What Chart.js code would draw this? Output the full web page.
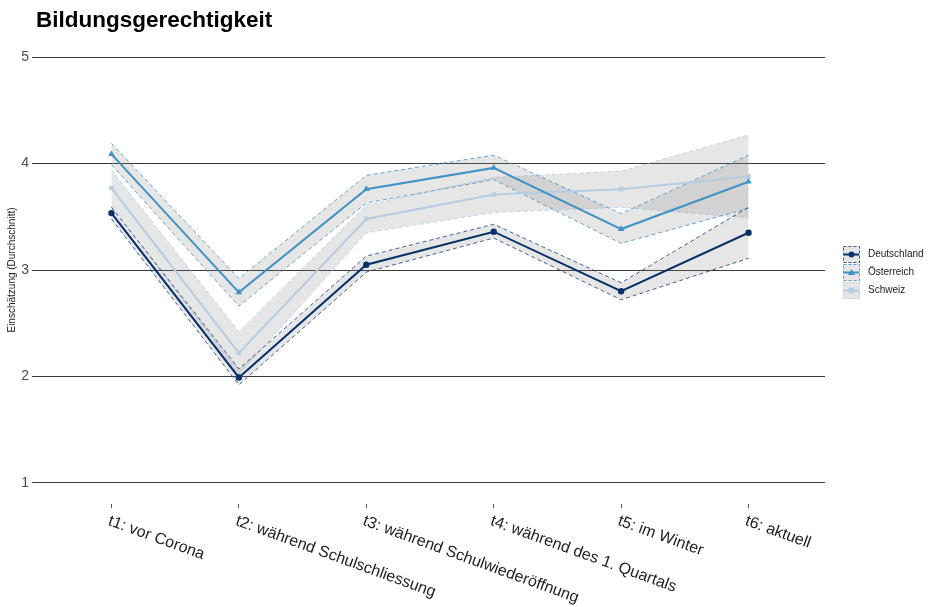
<!DOCTYPE html>
<html>
<head>
<meta charset="utf-8">
<script src="https://cdn.jsdelivr.net/npm/chart.js@4/dist/chart.umd.min.js"></script>
<style>
  html, body { margin: 0; padding: 0; background: #ffffff; }
  #wrap { width: 931px; height: 607px; }
</style>
</head>
<body>
<div id="wrap"><canvas id="c" width="931" height="607"></canvas></div>
<script>
// Zeitpunkte der Befragung
const categories = [
  't1: vor Corona',
  't2: während Schulschliessung',
  't3: während Schulwiederöffnung',
  't4: während des 1. Quartals',
  't5: im Winter',
  't6: aktuell'
];
const yTicks = [1, 2, 3, 4, 5];

// Mittelwerte und Konfidenzbänder je Land
const deutschland      = [3.535, 1.99, 3.05, 3.36, 2.80, 3.35];
const deutschlandLower = [3.48, 1.92, 2.98, 3.30, 2.72, 3.11];
const deutschlandUpper = [3.59, 2.07, 3.13, 3.43, 2.88, 3.59];

const oesterreich      = [4.09, 2.79, 3.76, 3.96, 3.385, 3.83];
const oesterreichLower = [3.99, 2.66, 3.63, 3.85, 3.25, 3.58];
const oesterreichUpper = [4.19, 2.92, 3.89, 4.08, 3.53, 4.08];

const schweiz      = [3.77, 2.22, 3.48, 3.71, 3.76, 3.88];
const schweizLower = [3.60, 2.02, 3.35, 3.54, 3.59, 3.49];
const schweizUpper = [3.94, 2.42, 3.61, 3.87, 3.93, 4.27];

const FONT = "'Liberation Sans', Arial, sans-serif";
const BAND_FILL = 'rgba(128,128,128,0.2)';

const series = [
  { name: 'Deutschland', values: deutschland, lower: deutschlandLower, upper: deutschlandUpper,
    color: '#08306b', dash: 'rgba(8,48,107,0.75)', point: 'circle', radius: 3.2 },
  { name: 'Österreich', values: oesterreich, lower: oesterreichLower, upper: oesterreichUpper,
    color: '#4292c6', dash: 'rgba(66,146,198,0.8)', point: 'triangle', radius: 3.8 },
  { name: 'Schweiz', values: schweiz, lower: schweizLower, upper: schweizUpper,
    color: '#b5cce3', dash: 'rgba(181,204,227,0.8)', point: 'rect', radius: 3.2 }
];

const toXY = arr => arr.map((v, i) => ({ x: i + 1, y: v }));

const datasets = [];
series.forEach(s => {
  datasets.push({
    label: s.name + ' unten', data: toXY(s.lower), borderColor: s.dash, borderWidth: 1,
    borderDash: [4, 3], pointRadius: 0, fill: false, order: 10, tension: 0
  });
  datasets.push({
    label: s.name + ' oben', data: toXY(s.upper), borderColor: s.dash, borderWidth: 1,
    borderDash: [4, 3], pointRadius: 0, fill: '-1', backgroundColor: BAND_FILL, order: 10, tension: 0
  });
});
series.forEach(s => {
  datasets.push({
    label: s.name, data: toXY(s.values), borderColor: s.color, backgroundColor: s.color,
    borderWidth: 2, pointStyle: s.point, pointRadius: s.radius, pointBorderWidth: 0,
    pointHoverRadius: s.radius, fill: false, order: 0, tension: 0
  });
});

// Titel, Achsenbeschriftungen und Legende werden direkt auf die Leinwand gezeichnet
const decorations = {
  id: 'decorations',
  afterDraw(chart) {
    const ctx = chart.ctx;
    const xs = chart.scales.x;
    const area = chart.chartArea;
    ctx.save();

    // Titel
    ctx.fillStyle = '#000000';
    ctx.font = `bold 22.5px ${FONT}`;
    ctx.textAlign = 'left';
    ctx.textBaseline = 'alphabetic';
    ctx.fillText('Bildungsgerechtigkeit', 36, 27);

    // y-Achsentitel
    ctx.save();
    ctx.translate(12, (area.top + area.bottom) / 2);
    ctx.rotate(-Math.PI / 2);
    ctx.font = `10px ${FONT}`;
    ctx.fillStyle = '#222222';
    ctx.textAlign = 'center';
    ctx.textBaseline = 'middle';
    ctx.fillText('Einschätzung (Durchschnitt)', 0, 0);
    ctx.restore();

    // schräge x-Beschriftungen
    ctx.font = `16px ${FONT}`;
    ctx.fillStyle = '#222222';
    ctx.textAlign = 'left';
    ctx.textBaseline = 'top';
    categories.forEach((lab, i) => {
      const px = xs.getPixelForValue(i + 1);
      ctx.save();
      ctx.translate(px, area.bottom + 9);
      ctx.rotate(20 * Math.PI / 180);
      ctx.fillText(lab, 0, 0);
      ctx.restore();
    });

    // Legende
    const keyX = 843, keyW = 17, keyH = 17;
    series.forEach((s, i) => {
      const top = 246 + i * 18;
      const cy = top + keyH / 2;
      ctx.fillStyle = BAND_FILL;
      ctx.fillRect(keyX, top, keyW, keyH);
      ctx.strokeStyle = s.dash;
      ctx.lineWidth = 1;
      ctx.setLineDash([3, 2]);
      ctx.strokeRect(keyX + 0.5, top + 0.5, keyW - 1, keyH - 1);
      ctx.setLineDash([]);
      ctx.strokeStyle = s.color;
      ctx.lineWidth = 2;
      ctx.beginPath();
      ctx.moveTo(keyX + 1, cy);
      ctx.lineTo(keyX + keyW - 1, cy);
      ctx.stroke();
      ctx.fillStyle = s.color;
      ctx.beginPath();
      if (s.point === 'circle') {
        ctx.arc(keyX + keyW / 2, cy, 3, 0, Math.PI * 2);
      } else if (s.point === 'triangle') {
        ctx.moveTo(keyX + keyW / 2, cy - 3.5);
        ctx.lineTo(keyX + keyW / 2 + 3.5, cy + 2.5);
        ctx.lineTo(keyX + keyW / 2 - 3.5, cy + 2.5);
        ctx.closePath();
      } else {
        ctx.rect(keyX + keyW / 2 - 3, cy - 3, 6, 6);
      }
      ctx.fill();
      ctx.fillStyle = '#1a1a1a';
      ctx.font = `10px ${FONT}`;
      ctx.textAlign = 'left';
      ctx.textBaseline = 'middle';
      ctx.fillText(s.name, 868, cy);
    });
    ctx.restore();
  }
};

new Chart(document.getElementById('c'), {
  type: 'line',
  data: { datasets },
  options: {
    responsive: false,
    animation: false,
    events: [],
    layout: { padding: { left: 0, top: 36, right: 106, bottom: 0 } },
    plugins: {
      legend: { display: false },
      title: { display: false },
      tooltip: { enabled: false }
    },
    scales: {
      x: {
        type: 'linear',
        min: 0.4,
        max: 6.6,
        afterBuildTicks: s => { s.ticks = categories.map((c, i) => ({ value: i + 1 })); },
        afterFit: s => { s.height = 103; },
        ticks: { display: false },
        grid: { drawOnChartArea: false, drawTicks: true, tickLength: 4, color: '#555555', lineWidth: 1 },
        border: { display: false }
      },
      y: {
        type: 'linear',
        min: 0.8,
        max: 5.2,
        afterBuildTicks: s => { s.ticks = yTicks.map(v => ({ value: v })); },
        afterFit: s => { s.width = 35; },
        ticks: {
          color: '#4d4d4d',
          font: { family: FONT, size: 14 },
          padding: 3,
          callback: v => String(v)
        },
        grid: { color: '#3a3a3a', lineWidth: 1, drawTicks: true, tickLength: 3 },
        border: { display: false }
      }
    }
  },
  plugins: [decorations]
});
</script>
</body>
</html>
